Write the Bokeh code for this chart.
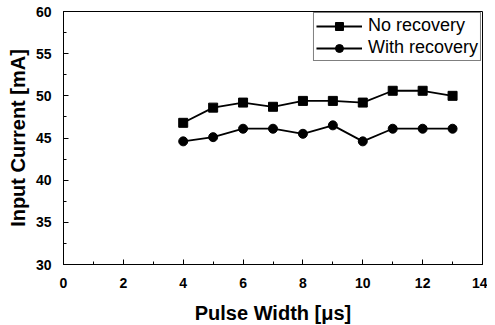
from bokeh.plotting import figure
from bokeh.embed import file_html
from bokeh.resources import INLINE
from bokeh.models import Legend, LegendItem, FixedTicker

pulse_width = [4, 5, 6, 7, 8, 9, 10, 11, 12, 13]
no_recovery = [46.8, 48.6, 49.2, 48.7, 49.4, 49.4, 49.2, 50.6, 50.6, 50.0]
with_recovery = [44.6, 45.1, 46.1, 46.1, 45.5, 46.5, 44.6, 46.1, 46.1, 46.1]
x_ticks = [0, 2, 4, 6, 8, 10, 12, 14]
y_ticks = [30, 35, 40, 45, 50, 55, 60]

p = figure(width=487, height=325, output_backend="svg", toolbar_location=None,
           x_range=(0, 14), y_range=(30, 60),
           min_border_left=63, min_border_right=5, min_border_top=11, min_border_bottom=61)
p.frame_width = 419
p.frame_height = 253

p.grid.visible = False
p.outline_line_color = "black"
p.outline_line_width = 1

FONT = "Liberation Sans"
p.xaxis.ticker = FixedTicker(ticks=x_ticks, minor_ticks=list(range(0, 15)))
p.yaxis.ticker = FixedTicker(ticks=y_ticks, minor_ticks=[30 + 2.5 * i for i in range(13)])
for ax in (p.xaxis[0], p.yaxis[0]):
    ax.axis_line_color = "black"
    ax.major_tick_in = 5
    ax.major_tick_out = 0
    ax.minor_tick_in = 3
    ax.minor_tick_out = 0
    ax.major_tick_line_color = "black"
    ax.minor_tick_line_color = "black"
    ax.major_label_text_font = FONT
    ax.major_label_text_font_style = "bold"
    ax.major_label_text_font_size = "14px"
    ax.major_label_text_color = "black"
    ax.axis_label_text_font = FONT
    ax.axis_label_text_font_style = "bold"
    ax.axis_label_text_font_size = "20px"
    ax.axis_label_text_color = "black"
p.xaxis.major_label_standoff = 13
p.yaxis.major_label_standoff = 12
p.xaxis.axis_label = "Pulse Width [μs]"
p.yaxis.axis_label = "Input Current [mA]"
p.xaxis.axis_label_standoff = 11
p.yaxis.axis_label_standoff = 4

l1 = p.line(pulse_width, no_recovery, line_color="black", line_width=1.8)
s1 = p.scatter(pulse_width, no_recovery, marker="square", size=9, fill_color="black", line_color="black")
l2 = p.line(pulse_width, with_recovery, line_color="black", line_width=1.8)
s2 = p.scatter(pulse_width, with_recovery, marker="circle", size=9, fill_color="black", line_color="black")

legend = Legend(items=[LegendItem(label="No recovery", renderers=[l1, s1]),
                       LegendItem(label="With recovery", renderers=[l2, s2])],
                location="top_right")
legend.border_line_color = "black"
legend.border_line_width = 1
legend.label_text_font = FONT
legend.label_text_font_size = "18px"
legend.label_text_color = "black"
legend.margin = 1
legend.padding = 2
legend.spacing = 1
legend.glyph_width = 46
legend.glyph_height = 20
legend.label_height = 20
legend.label_standoff = 6
p.add_layout(legend)

open("out.html", "w").write(file_html(p, INLINE))
